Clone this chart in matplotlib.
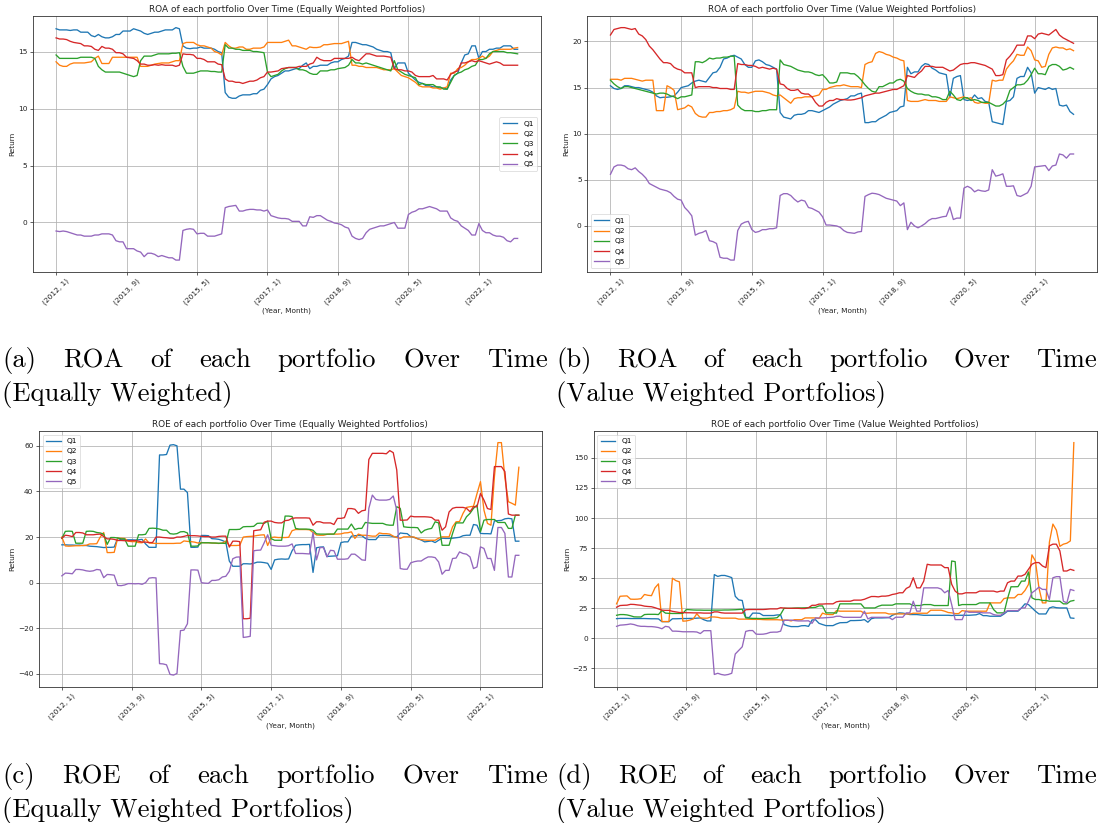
import matplotlib
matplotlib.use('Agg')
import matplotlib.pyplot as plt
from matplotlib.ticker import MultipleLocator

# ---------------- data ----------------
start_year, start_month, n_months = 2012, 1, 132
periods = [(start_year + (start_month - 1 + i) // 12, (start_month - 1 + i) % 12 + 1) for i in range(n_months)]
tick_every = 20
series_names = ['Q1', 'Q2', 'Q3', 'Q4', 'Q5']

roa_ew_q1 = [17.0,16.9,16.9,16.9,16.85,16.9,16.9,16.7,16.7,16.7,
             16.4,16.3,16.5,16.3,16.2,16.2,16.3,16.5,16.5,16.8,
             16.8,16.8,17.0,16.9,16.8,16.6,16.5,16.6,16.7,16.7,
             16.8,16.9,16.9,16.9,17.1,17.0,15.5,15.3,15.25,15.3,
             15.3,15.4,15.3,15.3,15.3,15.2,15.0,14.9,11.4,11.0,
             10.9,10.9,11.1,11.2,11.2,11.2,11.3,11.3,11.6,11.7,
             12.1,12.6,12.8,12.9,13.1,13.3,13.3,13.4,13.5,13.5,
             13.8,14.0,13.5,13.7,13.7,13.8,13.8,13.8,14.0,14.1,
             14.1,14.3,14.4,14.6,15.8,15.8,15.7,15.6,15.6,15.5,
             15.4,15.2,15.1,15.0,15.0,14.9,13.5,14.0,14.0,14.0,
             13.1,12.8,12.5,12.3,12.2,12.0,12.0,11.9,11.9,11.8,
             11.8,11.7,12.5,12.9,13.1,14.0,14.7,14.8,15.5,15.5,
             14.4,15.0,15.0,15.2,15.2,15.3,15.3,15.5,15.5,15.5,15.2,15.2]
roa_ew_q2 = [14.1,13.8,13.7,13.7,13.9,14.0,14.0,14.0,14.0,14.05,
             14.1,14.4,14.6,13.95,13.95,13.95,14.5,14.5,14.5,14.5,
             14.5,14.5,14.5,14.5,13.7,13.7,13.7,13.8,13.9,13.95,
             14.0,14.0,14.0,14.1,14.2,14.2,15.7,15.8,15.8,15.8,
             15.6,15.5,15.5,15.4,15.3,15.0,14.9,14.7,15.8,15.5,
             15.3,15.3,15.4,15.4,15.2,15.2,15.3,15.3,15.3,15.4,
             15.8,15.8,15.8,15.8,15.8,15.9,16.0,15.5,15.5,15.4,
             15.3,15.2,15.4,15.35,15.35,15.4,15.6,15.6,15.65,15.7,
             15.7,15.7,15.8,15.9,13.8,13.8,13.7,13.7,13.6,13.6,
             13.6,13.6,13.5,13.4,13.4,13.4,13.5,13.2,12.9,12.8,
             12.7,12.5,12.3,12.0,11.9,11.9,11.9,11.8,11.8,11.7,
             11.8,11.9,13.1,13.1,13.5,13.6,13.8,14.1,14.3,14.3,
             14.4,14.6,14.4,14.6,15.0,15.1,15.2,15.2,15.2,15.2,15.3,15.35]
roa_ew_q3 = [14.7,14.4,14.4,14.4,14.4,14.4,14.4,14.5,14.5,14.5,
             14.5,14.4,13.7,13.4,13.2,13.2,13.2,13.2,13.2,13.1,
             13.0,12.9,12.8,12.9,14.2,14.6,14.6,14.6,14.7,14.8,
             14.8,14.8,14.8,14.85,14.85,14.9,13.7,13.1,13.1,13.1,
             13.2,13.3,13.3,13.3,13.25,13.25,13.2,13.2,15.6,15.3,
             15.3,15.2,15.2,15.1,15.1,15.1,15.0,15.0,14.95,14.9,
             13.2,12.8,12.9,13.0,13.3,13.5,13.6,13.6,13.6,13.4,
             13.4,13.3,13.1,13.0,13.0,13.3,13.3,13.3,13.4,13.4,
             13.5,13.55,13.6,13.8,14.3,14.0,14.0,13.9,14.0,13.9,
             13.8,13.7,13.6,13.5,13.4,13.3,14.2,13.4,13.2,13.0,
             12.9,12.8,12.7,12.1,12.2,12.1,12.1,12.1,11.9,11.9,
             11.7,11.7,12.3,12.9,13.1,13.2,13.4,13.5,13.7,13.8,
             14.3,14.3,14.4,14.8,15.0,15.0,15.0,15.0,14.9,14.9,14.85,14.8]
roa_ew_q4 = [16.2,16.1,16.1,16.05,15.9,15.8,15.75,15.7,15.5,15.5,
             15.45,15.2,15.1,15.45,15.3,15.3,15.2,14.9,14.9,14.8,
             14.5,14.45,14.4,14.2,13.9,13.9,13.8,13.8,13.85,13.8,
             13.85,13.8,13.8,13.8,13.7,13.8,14.8,14.75,14.75,14.7,
             14.4,14.4,14.3,14.1,14.1,14.1,13.9,13.85,12.6,12.4,
             12.4,12.3,12.3,12.2,12.3,12.4,12.4,12.5,12.7,12.8,
             13.2,13.2,13.25,13.3,13.5,13.55,13.6,13.6,13.6,13.7,
             13.7,13.7,13.9,14.0,14.5,14.3,14.2,14.2,14.2,14.4,
             14.4,14.4,14.4,14.4,14.5,14.3,14.2,14.5,14.8,14.8,
             14.7,14.6,14.6,14.6,14.55,14.5,13.5,13.4,13.4,13.3,
             13.3,13.2,12.9,12.8,12.8,12.8,12.8,12.9,12.6,12.6,
             12.6,12.5,13.0,13.2,13.3,14.0,14.0,14.1,14.2,14.1,
             14.2,14.1,14.0,13.9,14.0,14.1,14.0,13.8,13.8,13.8,13.8,13.8]
roa_ew_q5 = [-0.75,-0.8,-0.75,-0.8,-0.9,-1.0,-1.1,-1.1,-1.2,-1.2,
             -1.2,-1.1,-1.1,-1.0,-1.0,-1.0,-1.1,-1.6,-1.7,-1.7,
             -2.3,-2.3,-2.3,-2.5,-2.6,-3.0,-2.7,-2.7,-2.8,-3.0,
             -2.9,-3.0,-3.1,-3.1,-3.3,-3.3,-0.7,-0.6,-0.55,-0.6,
             -1.0,-0.95,-0.95,-1.2,-1.2,-1.2,-1.1,-1.0,1.3,1.4,
             1.45,1.5,1.0,1.0,1.1,1.15,1.15,1.1,1.1,1.0,
             1.1,0.6,0.5,0.4,0.35,0.35,0.3,0.1,0.1,0.1,
             -0.3,-0.3,0.5,0.45,0.6,0.6,0.4,0.2,0.1,-0.05,
             -0.1,-0.2,-0.4,-0.5,-1.2,-1.4,-1.5,-1.4,-0.9,-0.6,
             -0.5,-0.4,-0.3,-0.3,-0.2,-0.1,0.0,-0.5,-0.5,-0.5,
             0.7,0.9,1.0,1.2,1.2,1.3,1.4,1.3,1.2,1.0,
             1.0,1.0,0.4,0.2,0.1,-0.3,-0.5,-0.7,-1.1,-1.1,
             -0.1,-0.7,-0.9,-0.9,-1.1,-1.2,-1.2,-1.3,-1.6,-1.7,-1.4,-1.4]

roa_vw_q1 = [15.2,14.9,14.8,14.9,15.2,15.2,15.1,15.0,15.0,14.9,
             14.8,14.7,14.5,14.1,13.9,13.95,13.95,14.0,14.1,14.5,
             15.0,15.1,15.2,15.5,15.7,15.8,15.7,15.6,16.1,16.6,
             16.7,17.2,18.1,18.2,18.4,18.5,18.3,18.1,17.5,17.2,
             17.2,17.9,18.0,17.8,17.5,17.4,17.2,17.0,12.3,11.8,
             11.7,11.6,12.0,12.1,12.1,12.2,12.5,12.5,12.4,12.3,
             12.5,12.7,12.9,13.2,13.4,13.6,13.7,13.8,14.1,14.1,
             14.3,14.4,11.2,11.2,11.3,11.3,11.6,11.8,12.0,12.3,
             12.4,12.5,12.9,13.0,17.2,16.5,16.7,16.7,17.3,17.6,
             17.5,17.1,16.9,16.6,16.5,16.4,13.9,16.0,16.2,16.3,
             13.7,13.6,13.7,14.2,13.8,13.9,13.5,13.4,11.3,11.2,
             11.1,11.0,13.5,13.6,14.0,16.0,16.2,16.2,17.2,16.6,
             14.4,15.0,14.9,14.8,15.0,14.8,14.9,13.1,13.0,13.1,12.4,12.1]
roa_vw_q2 = [15.9,15.9,15.9,15.8,16.0,16.0,16.0,15.9,15.8,15.7,
             15.8,15.8,15.8,12.5,12.5,12.5,15.2,15.0,14.7,12.6,
             12.7,12.8,13.1,12.9,12.2,11.9,11.8,11.8,12.3,12.3,
             12.4,12.4,12.5,12.5,12.6,12.8,14.6,14.5,14.5,14.4,
             14.5,14.6,14.6,14.6,14.5,14.4,14.2,14.1,14.2,13.9,
             13.6,13.3,13.8,13.9,13.9,14.0,14.0,14.0,14.1,14.2,
             14.8,14.8,15.0,15.1,15.2,15.2,15.3,15.2,15.1,15.1,
             15.1,15.0,17.5,17.7,17.8,18.7,18.9,18.8,18.6,18.5,
             18.3,18.2,18.0,17.9,13.6,13.5,13.5,13.5,13.6,13.7,
             13.6,13.6,13.6,13.5,13.5,13.5,14.0,13.9,13.8,13.9,
             14.0,13.8,13.9,13.4,13.3,13.4,13.3,13.3,15.8,15.7,
             15.8,15.8,17.0,17.5,17.9,18.6,18.5,18.5,19.4,19.0,
             18.0,17.9,17.2,17.3,18.6,19.3,19.4,19.3,19.3,19.1,19.2,19.0]
roa_vw_q3 = [15.8,15.4,15.1,14.9,15.1,15.1,15.0,14.9,14.8,14.7,
             14.6,14.5,14.4,14.3,14.4,14.4,14.3,14.1,14.0,13.8,
             14.0,14.0,14.1,14.2,17.8,17.8,17.7,17.9,18.2,18.1,
             18.2,18.2,18.3,18.3,18.4,18.4,13.1,12.7,12.5,12.5,
             12.5,12.4,12.4,12.5,12.5,12.6,12.6,12.6,18.0,17.5,
             17.4,17.3,17.1,16.9,16.8,16.7,16.7,16.6,16.4,16.3,
             16.4,16.0,15.5,15.5,15.6,16.6,16.6,16.6,16.5,16.5,
             16.2,15.8,15.3,14.9,14.6,14.5,15.1,15.1,15.3,15.5,
             15.5,15.8,15.9,15.7,14.9,14.6,14.4,14.3,14.3,14.2,
             14.2,14.0,14.0,13.9,13.7,13.7,14.6,14.2,13.7,13.6,
             13.9,13.9,13.6,13.7,13.6,13.4,13.4,13.4,13.2,13.0,
             13.0,13.2,13.6,14.7,15.0,15.3,15.3,15.4,15.8,16.4,
             17.1,16.5,16.5,16.4,17.3,17.5,17.5,17.3,16.9,17.0,17.2,17.0]
roa_vw_q4 = [20.7,21.3,21.4,21.5,21.5,21.4,21.3,21.4,20.8,20.6,
             20.2,19.5,19.1,18.6,18.1,17.7,17.7,17.6,17.2,17.0,
             16.9,16.6,16.6,16.6,15.0,15.1,15.1,15.1,15.1,15.0,
             15.0,14.9,14.9,14.9,14.8,14.8,17.6,17.5,17.5,17.4,
             17.4,17.3,17.1,17.2,17.1,17.0,17.1,17.0,15.4,15.3,
             14.9,14.7,14.7,14.8,14.4,14.3,14.3,14.0,13.4,13.0,
             13.0,13.4,13.6,13.6,13.8,13.7,13.7,13.65,13.65,13.7,
             13.8,13.9,14.1,14.2,14.3,14.4,14.4,14.5,14.6,14.7,
             14.8,14.8,15.0,15.2,16.3,16.2,16.1,16.5,16.8,17.3,
             17.3,17.3,17.2,17.2,17.2,17.0,16.8,16.9,17.2,17.5,
             17.6,17.6,17.7,17.7,17.6,17.5,17.4,17.2,17.0,16.3,
             16.3,16.4,18.0,18.4,18.9,19.6,19.6,19.6,20.6,20.6,
             20.3,20.8,20.9,20.8,20.7,21.0,21.3,20.7,20.4,20.2,20.0,19.8]
roa_vw_q5 = [5.6,6.4,6.6,6.6,6.5,6.2,6.1,6.3,5.9,5.6,
             5.2,4.6,4.4,4.2,4.0,3.9,3.8,3.6,3.2,2.9,
             2.8,2.0,1.6,1.1,-1.0,-0.8,-0.7,-0.5,-1.6,-1.7,
             -1.9,-3.4,-3.5,-3.5,-3.7,-3.7,-0.5,0.2,0.4,0.5,
             -0.4,-0.7,-0.6,-0.4,-0.4,-0.3,-0.3,-0.2,3.3,3.5,
             3.5,3.3,2.9,2.6,2.8,2.7,2.0,1.9,1.7,1.5,
             1.0,0.1,0.1,0.05,0.0,-0.15,-0.5,-0.7,-0.75,-0.8,
             -0.65,-0.6,3.2,3.4,3.55,3.5,3.4,3.2,3.0,2.9,
             2.8,2.7,2.2,2.5,-0.4,0.4,0.0,-0.2,0.0,0.25,
             0.6,0.8,0.8,0.9,1.0,1.05,2.05,0.7,0.85,0.85,
             4.1,4.3,4.1,3.7,3.9,3.8,3.75,3.9,6.1,5.4,
             5.5,5.65,4.3,4.3,4.35,3.3,3.2,3.4,3.6,4.3,
             6.4,6.45,6.5,6.55,6.0,6.5,6.6,7.8,7.7,7.35,7.8,7.8]

roe_ew_q1 = [16.6,16.6,16.5,16.5,16.4,16.5,16.3,16.3,16.0,15.9,
             15.8,15.6,15.4,15.5,15.5,15.6,19.5,18.8,18.8,18.8,
             18.8,18.7,18.8,19.0,17.0,15.5,15.5,15.5,56.0,56.0,
             56.2,60.3,60.5,60.0,41.0,41.0,39.5,15.5,15.5,15.6,
             20.7,20.7,20.6,19.3,19.2,19.0,18.5,17.8,9.5,7.2,
             7.2,7.2,8.3,8.3,8.2,8.5,9.0,9.0,8.8,8.5,
             5.8,10.0,10.3,10.4,10.3,10.4,14.0,16.4,16.6,16.7,
             16.7,16.8,4.5,15.3,15.6,15.7,11.5,11.6,11.7,11.8,
             17.6,17.9,17.9,20.4,20.6,20.7,20.6,19.4,18.9,18.9,
             18.9,20.7,20.7,20.7,20.6,20.2,20.0,21.8,21.6,21.5,
             20.2,19.8,19.3,18.7,17.9,18.1,18.3,17.6,18.6,19.5,
             19.4,19.4,19.5,19.7,19.9,20.6,20.8,20.8,25.5,25.2,
             21.6,21.5,21.5,21.4,27.1,27.2,27.3,28.0,28.2,28.0,18.2,18.2]
roe_ew_q2 = [20.0,16.1,16.0,16.1,16.2,16.2,16.3,16.4,17.0,17.0,
             17.1,20.0,22.0,13.2,13.2,13.3,19.5,19.5,19.4,18.2,
             18.0,18.0,17.6,17.5,19.2,17.4,17.3,17.2,17.2,17.2,
             17.2,17.2,17.2,17.3,17.3,18.3,18.1,18.0,17.8,17.4,
             17.6,17.5,17.5,17.4,17.3,17.2,17.4,18.2,16.3,16.3,
             16.3,16.4,20.0,20.2,20.3,20.4,20.7,20.9,21.0,16.3,
             19.8,20.0,19.8,19.8,19.8,19.9,22.8,23.3,23.3,23.3,
             23.3,23.2,22.0,20.9,20.8,20.8,21.2,21.3,21.3,21.3,
             21.4,21.8,21.9,22.3,19.4,21.3,20.8,20.8,20.6,20.4,
             20.4,21.8,21.5,21.5,21.3,20.4,19.8,19.4,20.1,20.1,
             20.1,20.0,19.2,18.9,18.7,18.6,18.6,18.6,19.5,20.1,
             20.1,20.1,24.5,26.7,26.8,30.4,33.0,33.3,33.5,39.0,
             44.3,31.8,26.0,25.2,46.5,61.4,61.4,46.0,35.5,34.8,34.0,50.6]
roe_ew_q3 = [19.4,22.5,22.6,22.5,17.3,17.3,17.3,22.5,22.6,22.5,
             22.0,21.8,21.3,16.8,19.8,19.8,19.6,19.2,19.2,16.0,
             16.0,16.0,21.0,21.0,21.2,23.8,23.9,23.8,23.5,23.0,
             23.0,21.5,21.3,21.5,22.3,22.4,21.8,16.0,16.0,16.1,
             17.5,17.5,17.5,17.4,17.4,17.3,17.3,17.2,23.3,23.3,
             23.3,23.4,24.5,24.6,24.6,24.7,26.0,26.1,26.0,27.0,
             19.3,18.6,18.6,18.6,29.2,29.2,29.0,23.8,23.5,23.5,
             23.5,23.4,23.0,21.4,21.3,21.3,21.3,21.3,21.3,23.5,
             23.5,23.5,23.5,25.7,23.3,23.8,23.8,26.4,26.2,26.0,
             26.0,26.0,26.0,25.4,25.2,25.2,33.3,32.6,24.5,24.3,
             24.2,24.2,24.1,21.8,23.0,23.5,23.8,26.7,26.2,16.4,
             16.4,16.4,21.6,26.2,26.2,26.2,28.9,30.4,32.6,34.0,
             22.3,27.4,27.7,27.7,27.7,26.4,26.4,26.4,23.8,23.8,29.6,29.6]
roe_ew_q4 = [19.5,20.8,20.6,20.2,22.0,22.0,21.8,21.0,21.0,21.0,
             21.2,21.3,20.2,19.2,19.2,19.0,18.5,18.5,18.4,18.4,
             18.4,18.5,18.2,17.8,17.8,17.6,17.6,20.0,20.0,19.8,
             19.7,19.5,19.5,20.0,20.0,20.3,20.7,20.6,20.6,20.5,
             20.3,20.2,20.2,20.0,20.0,20.3,20.4,20.4,15.6,18.2,
             18.2,18.0,-15.8,-15.8,-15.6,22.8,23.0,23.2,26.5,27.0,
             27.0,26.4,26.2,26.2,27.2,27.4,28.2,28.4,28.4,28.4,
             28.4,28.3,25.2,26.7,26.7,26.2,26.2,26.2,25.5,28.2,
             28.2,28.5,32.5,32.5,32.2,30.4,31.5,31.8,54.0,56.7,
             56.7,56.7,56.7,56.5,57.9,57.0,49.4,27.4,27.4,27.5,
             29.2,28.9,28.9,28.9,28.9,28.8,28.6,27.4,27.4,23.0,
             24.5,31.0,32.6,33.0,33.0,33.0,32.6,31.1,33.3,33.3,
             39.1,36.2,32.5,32.1,50.9,50.9,50.9,48.7,30.1,29.6,29.6,29.6]
roe_ew_q5 = [3.0,4.2,4.1,3.9,5.8,5.8,5.6,5.2,5.0,5.2,
             5.8,5.6,2.2,3.6,3.5,3.3,-1.2,-1.3,-1.0,-0.4,
             -0.4,-0.5,-0.4,-0.7,0.0,2.0,2.2,2.1,-35.5,-35.6,
             -36.0,-40.2,-40.5,-39.8,-21.0,-20.8,-18.0,5.6,5.6,5.5,
             0.0,-0.2,-0.3,1.0,1.0,1.3,2.5,2.8,5.0,10.5,
             11.2,11.3,-24.0,-23.8,-23.5,14.0,14.2,14.3,17.5,21.0,
             16.4,16.2,16.0,16.0,16.0,16.2,17.0,12.8,12.8,12.8,
             12.7,12.6,22.0,10.0,15.4,15.4,11.3,14.2,14.0,10.3,
             10.3,10.3,10.5,12.5,12.5,11.3,10.0,9.8,32.6,38.4,
             36.5,36.2,36.2,36.2,36.5,38.0,31.8,6.2,5.9,5.9,
             8.7,9.2,9.5,9.5,10.5,11.3,11.3,11.0,9.1,3.7,
             5.4,5.4,10.6,10.8,13.5,12.8,12.5,11.3,6.2,6.9,
             15.7,15.0,10.6,10.6,5.4,24.2,24.2,21.6,2.5,2.5,12.0,12.0]

roe_vw_q1 = [16.4,16.6,16.6,16.6,16.5,16.5,16.5,16.5,16.5,16.4,
             16.3,16.3,16.2,13.9,13.9,13.9,16.3,16.3,16.4,16.5,
             16.5,16.6,16.6,16.8,17.0,15.5,14.5,14.5,53.0,51.5,
             52.3,52.3,51.5,50.5,35.0,32.0,31.5,17.5,17.3,21.0,
             21.0,20.8,19.0,19.0,19.0,19.0,19.5,19.5,11.5,10.5,
             9.8,9.8,9.8,10.5,10.6,10.0,15.3,15.5,12.5,11.5,
             10.6,10.6,10.6,12.0,13.0,13.1,13.2,14.8,14.8,14.9,
             15.0,15.6,13.4,16.4,17.0,17.0,17.0,17.1,17.2,19.2,
             20.3,21.2,21.0,20.5,19.8,19.8,19.8,19.5,19.2,19.2,
             19.2,19.2,19.2,19.2,19.2,19.2,19.0,19.2,19.2,19.2,
             19.2,19.2,19.4,19.6,20.6,18.9,18.9,18.4,18.4,18.4,
             18.4,20.3,22.6,22.6,22.6,22.6,25.3,28.7,28.1,25.3,
             22.6,20.3,20.3,20.3,25.3,26.2,25.5,25.3,25.3,25.3,17.0,16.7]
roe_vw_q2 = [28.7,35.0,35.2,35.3,32.6,32.5,32.6,33.0,36.5,35.8,
             35.5,42.0,45.3,14.0,14.0,14.0,50.0,48.0,47.0,14.3,
             14.5,15.2,16.2,20.5,17.0,16.8,16.8,17.8,17.8,17.5,
             16.8,16.8,16.8,16.8,16.8,16.0,16.0,16.0,15.9,15.8,
             15.8,15.8,15.6,15.5,15.5,15.5,15.5,15.3,15.2,15.2,
             14.5,15.5,15.5,15.5,17.0,17.0,17.0,17.0,16.5,21.0,
             20.0,19.8,19.8,23.1,22.6,22.6,22.6,22.6,22.6,22.6,
             22.6,20.9,20.9,21.2,21.2,21.2,21.2,21.2,20.3,20.3,
             20.3,20.3,20.3,20.3,20.3,20.9,20.9,20.9,20.9,20.9,
             23.4,23.4,23.4,23.4,22.6,21.5,21.2,20.6,20.6,23.1,
             22.6,22.6,22.6,22.6,22.6,22.6,22.6,29.5,29.5,29.5,
             29.5,33.1,33.7,33.7,33.7,36.5,36.5,39.8,44.8,69.4,
             64.3,42.0,29.5,29.5,80.0,95.0,90.0,76.5,78.3,79.1,81.0,162.7]
roe_vw_q3 = [19.2,19.8,19.8,19.5,18.8,17.9,17.8,17.8,19.8,20.0,
             20.0,20.0,19.8,23.2,21.0,20.8,20.7,20.7,20.7,20.8,
             24.0,23.8,23.6,23.5,23.5,23.4,23.4,23.4,23.5,23.5,
             23.5,23.6,23.6,23.7,23.8,24.0,24.2,17.0,16.8,16.6,
             16.6,16.5,16.5,16.6,16.7,16.8,17.2,20.0,25.0,25.0,
             25.0,25.2,25.3,25.3,25.4,25.5,25.6,25.8,27.0,27.0,
             21.2,21.2,21.2,21.0,28.7,28.7,28.7,28.7,28.7,28.7,
             28.7,25.3,25.3,25.3,25.3,26.7,27.6,27.6,27.6,27.6,
             28.7,28.7,28.7,28.7,28.7,27.3,27.3,27.3,28.1,28.1,
             28.1,27.3,27.3,27.3,27.3,27.3,64.3,63.8,27.3,28.1,
             28.1,28.1,28.1,28.1,29.5,29.5,29.5,29.5,24.0,21.2,
             21.2,21.2,33.0,42.9,42.9,43.0,47.6,47.6,55.2,33.7,
             32.3,32.3,31.5,31.5,30.9,30.9,30.9,30.9,28.7,28.7,30.9,31.5]
roe_vw_q4 = [25.9,27.3,27.5,27.6,28.3,28.2,27.8,27.5,26.8,26.5,
             26.3,25.5,24.5,23.5,23.3,23.3,22.5,22.0,21.5,21.5,
             21.3,21.3,21.2,21.2,21.2,21.0,21.0,21.0,22.0,22.0,
             21.3,21.0,21.0,21.0,21.0,21.0,21.0,23.8,24.0,24.0,
             24.0,24.0,24.0,24.2,24.5,24.5,24.5,25.5,25.2,25.0,
             25.0,25.0,25.0,24.8,24.8,25.5,27.5,27.5,28.5,28.5,
             28.7,28.7,28.7,30.4,30.9,30.9,30.9,30.9,31.8,31.8,
             31.8,32.5,33.7,34.8,34.8,34.5,35.1,35.1,35.5,36.5,
             37.0,37.9,37.9,41.5,43.0,50.4,42.0,42.0,47.6,61.6,
             61.0,61.0,61.0,61.0,58.8,58.8,45.0,39.3,37.0,37.0,
             37.9,37.9,37.9,37.9,39.3,39.3,39.3,39.3,39.3,38.5,
             39.3,39.3,46.2,47.6,47.6,51.8,51.8,53.2,57.4,61.6,
             63.0,63.0,60.2,58.8,76.9,78.3,78.3,72.7,56.0,56.0,57.4,56.5]
roe_vw_q5 = [10.0,11.0,11.2,11.5,12.0,11.5,10.5,10.0,10.0,9.8,
             9.8,9.5,9.0,8.0,10.0,9.5,6.0,6.0,5.8,5.5,
             5.5,5.5,5.5,5.3,4.0,6.4,6.4,6.4,-30.0,-29.0,
             -30.0,-30.5,-30.0,-29.0,-13.0,-10.0,-7.0,5.8,6.5,6.5,
             3.5,3.4,3.5,4.0,5.0,5.2,5.2,6.0,15.0,15.0,
             15.2,14.8,14.5,14.5,14.5,14.6,12.5,17.0,17.0,17.0,
             17.2,17.4,17.6,18.4,18.4,17.5,17.5,17.5,17.5,17.5,
             17.5,22.6,16.2,17.5,17.5,17.5,17.5,17.5,17.5,15.6,
             17.6,17.6,17.6,21.2,21.2,30.9,22.6,22.6,42.0,42.0,
             42.0,42.0,42.0,41.0,37.9,39.8,28.1,15.6,15.6,15.6,
             22.6,21.7,21.7,21.7,21.7,21.2,21.2,21.2,19.8,19.2,
             19.2,21.2,23.1,23.1,23.1,23.1,25.3,25.3,30.9,37.9,
             40.0,42.6,40.7,40.7,32.3,50.4,51.3,51.3,30.9,29.5,40.7,39.8]

panel_titles = ['ROA of each portfolio Over Time (Equally Weighted Portfolios)',
                'ROA of each portfolio Over Time (Value Weighted Portfolios)',
                'ROE of each portfolio Over Time (Equally Weighted Portfolios)',
                'ROE of each portfolio Over Time (Value Weighted Portfolios)']
caption_line1 = ['(a) ROA of each portfolio Over Time',
                 '(b) ROA of each portfolio Over Time',
                 '(c) ROE of each portfolio Over Time',
                 '(d) ROE of each portfolio Over Time']
caption_line2 = ['(Equally Weighted)', '(Value Weighted Portfolios)',
                 '(Equally Weighted Portfolios)', '(Value Weighted Portfolios)']
panel_series = [
    [roa_ew_q1, roa_ew_q2, roa_ew_q3, roa_ew_q4, roa_ew_q5],
    [roa_vw_q1, roa_vw_q2, roa_vw_q3, roa_vw_q4, roa_vw_q5],
    [roe_ew_q1, roe_ew_q2, roe_ew_q3, roe_ew_q4, roe_ew_q5],
    [roe_vw_q1, roe_vw_q2, roe_vw_q3, roe_vw_q4, roe_vw_q5],
]
y_steps = [5, 5, 20, 25]

# ---------------- layout / style ----------------
W, H = 1098, 823
fig = plt.figure(figsize=(W / 100, H / 100), dpi=100)
colors = ['#1f77b4', '#ff7f0e', '#2ca02c', '#d62728', '#9467bd']
legend_locs = ['center right', 'lower left', 'upper left', 'upper left']
# axes boxes in pixels: left, right, top, bottom
boxes = [(33, 540.7, 16, 271.7), (587.3, 1096.7, 16, 271.7),
         (39, 541.7, 431, 686.7), (593.7, 1096.7, 431, 686.7)]

TICK_FS = 5.3
TITLE_FS = 6.4
x_idx = list(range(n_months))
tick_pos = x_idx[::tick_every]
tick_lab = ['(%d, %d)' % periods[i] for i in tick_pos]

for k in range(4):
    l, r, t, b = boxes[k]
    ax = fig.add_axes([l / W, 1 - b / H, (r - l) / W, (b - t) / H])
    for s, name, c in zip(panel_series[k], series_names, colors):
        ax.plot(x_idx, s, color=c, lw=0.95, label=name)
    ax.set_xticks(tick_pos)
    ax.set_xticklabels(tick_lab, rotation=45, ha='center', fontsize=TICK_FS)
    ax.yaxis.set_major_locator(MultipleLocator(y_steps[k]))
    ax.tick_params(axis='both', labelsize=TICK_FS, length=2.2, width=0.5, pad=1.8, colors='#222222')
    ax.grid(True, color='#b0b0b0', lw=0.55)
    ax.set_axisbelow(True)
    for sp in ax.spines.values():
        sp.set_linewidth(0.6)
        sp.set_color('#333333')
    ax.set_title(panel_titles[k], fontsize=TITLE_FS, pad=3, color='#222222')
    ax.set_ylabel('Return', fontsize=TICK_FS, labelpad=2, color='#222222')
    ax.set_xlabel('(Year, Month)', fontsize=TICK_FS, labelpad=1, color='#222222')
    leg = ax.legend(loc=legend_locs[k], fontsize=TICK_FS, handlelength=2.0,
                    borderpad=0.45, labelspacing=0.55, framealpha=0.8)
    leg.get_frame().set_linewidth(0.5)

# ---------------- captions (justified first line) ----------------
CAP_FS = 19.2
cap_font = dict(family='cmr10', fontsize=CAP_FS, color='black')
fig.canvas.draw()
renderer = fig.canvas.get_renderer()
cap_x = [(2, 548), (556, 1097), (2, 548), (556, 1097)]
cap_base = [(367, 401), (367, 401), (783, 816.5), (783, 816.5)]
for k in range(4):
    x0, x1 = cap_x[k]
    y1, y2 = cap_base[k]
    words = caption_line1[k].split(' ')
    texts = [fig.text(0, 1 - y1 / H, w_, va='baseline', ha='left', **cap_font) for w_ in words]
    widths = [t_.get_window_extent(renderer).width for t_ in texts]
    gap = ((x1 - x0) - sum(widths)) / (len(words) - 1)
    x = x0
    for t_, w_ in zip(texts, widths):
        t_.set_x(x / W)
        x += w_ + gap
    fig.text(x0 / W, 1 - y2 / H, caption_line2[k], va='baseline', ha='left', **cap_font)

fig.savefig('out.png', dpi=100)
